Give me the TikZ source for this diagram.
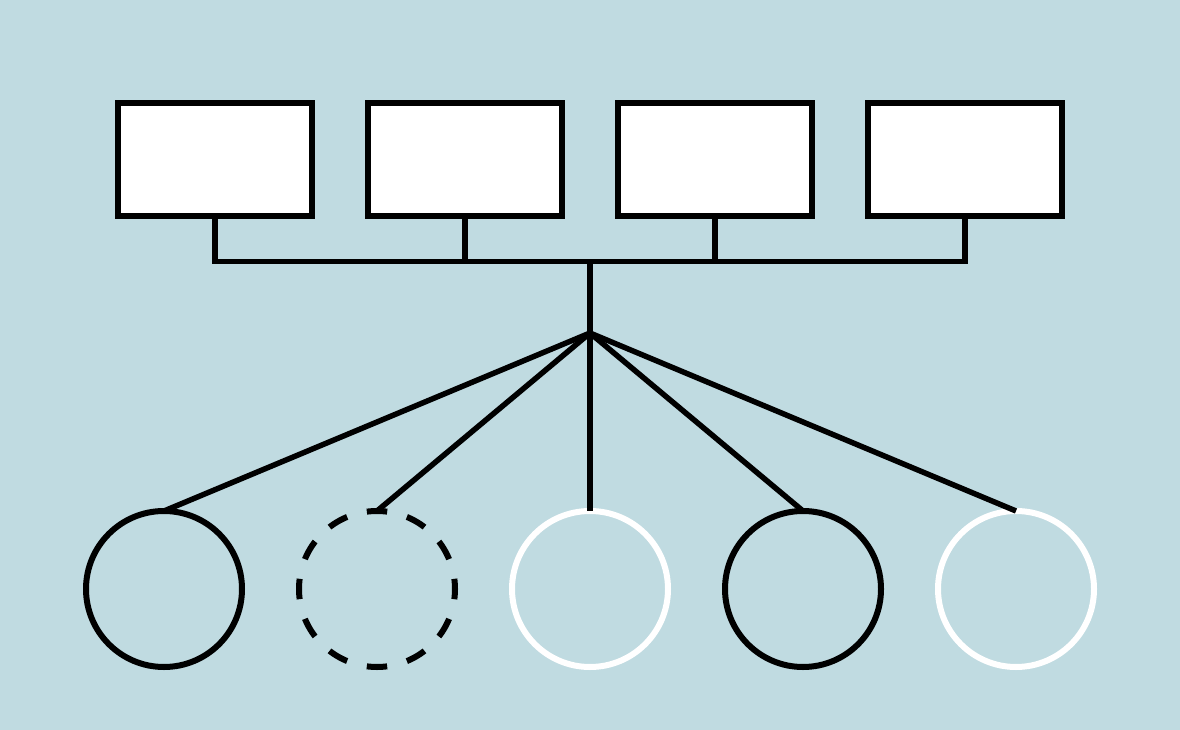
\documentclass[tikz,border=0pt]{standalone}
\begin{document}
\begin{tikzpicture}[x=1pt,y=-1pt,
  bx/.style={draw=black,fill=white,line width=6pt,minimum width=194pt,minimum height=113pt,inner sep=0pt,outer sep=0pt},
  cir/.style={circle,line width=6pt,minimum size=156pt,inner sep=0pt,outer sep=0pt},
  wire/.style={line width=5.5pt,draw=black}]
\definecolor{bg}{HTML}{C0DBE1}
\fill[bg] (0,0) rectangle (1180,730);
\useasboundingbox (0,0) rectangle (1180,730);
\node[bx] (b1) at (215,159.5) {};
\node[bx] (b2) at (465,159.5) {};
\node[bx] (b3) at (715,159.5) {};
\node[bx] (b4) at (965,159.5) {};
\coordinate (bus) at (590,261.5);
\coordinate (hub) at (590,333);
\node[cir,draw=black] (c1) at (164,589) {};
\node[cir,draw=black,dash pattern=on 20.4pt off 20.44pt,dash phase=10.2pt] (c2) at (377,589) {};
\node[cir,draw=white] (c3) at (590,589) {};
\node[cir,draw=black] (c4) at (803,589) {};
\node[cir,draw=white] (c5) at (1016,589) {};
\draw[wire] (b1.south) |- (bus);
\draw[wire] (b4.south) |- (bus);
\draw[wire] (b2.south) -- (b2.south |- bus);
\draw[wire] (b3.south) -- (b3.south |- bus);
\draw[wire] (bus) -- (hub);
\foreach \c in {c1,c2,c3,c4,c5}{
  \draw[wire] (hub) -- (\c.north);
}
\end{tikzpicture}
\end{document}
